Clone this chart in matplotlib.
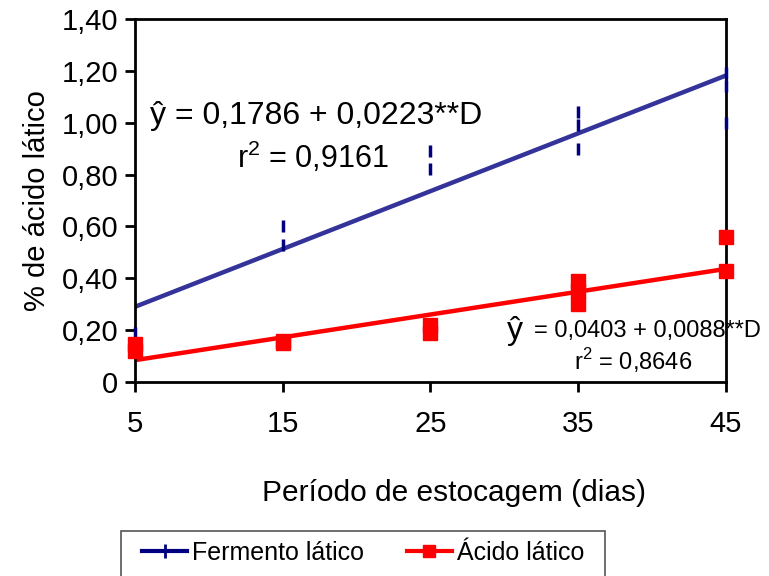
import numpy as np
import matplotlib.pyplot as plt
from matplotlib.lines import Line2D
from matplotlib.patches import Rectangle

plt.rcParams['font.family'] = ['Liberation Sans', 'DejaVu Sans']
plt.rcParams['mathtext.fontset'] = 'custom'
plt.rcParams['mathtext.rm'] = 'Liberation Sans'

# dias de estocagem
dias = [5, 15, 25, 35, 45]

# replicatas
fermento_x = [5, 5, 15, 15, 25, 25, 35, 35, 35, 45, 45, 45]
fermento_y = [0.19, 0.15, 0.60, 0.53, 0.89, 0.82, 1.04, 0.99, 0.90, 1.19, 1.14, 1.00]

acido_x = [5, 5, 15, 15, 25, 25, 35, 35, 35, 45, 45]
acido_y = [0.145, 0.12, 0.16, 0.15, 0.22, 0.19, 0.39, 0.35, 0.30, 0.56, 0.43]

# regressoes
a1, b1 = 0.1786, 0.0223
a2, b2 = 0.0403, 0.0088

yticks = [0, 0.2, 0.4, 0.6, 0.8, 1.0, 1.2, 1.4]
ytick_labels = ['0', '0,20', '0,40', '0,60', '0,80', '1,00', '1,20', '1,40']

fig = plt.figure(figsize=(7.69, 5.76), dpi=100)
ax = fig.add_axes([0.1756, 0.3368, 0.7684, 0.6302])

D = np.array([5, 45])
ax.plot(D, a1 + b1 * D, color='#333399', lw=3.2, solid_capstyle='butt', zorder=2)
ax.plot(D, a2 + b2 * D, color='#ff0000', lw=3.2, solid_capstyle='butt', zorder=2)

ax.plot(fermento_x, fermento_y, ls='none', marker='|', ms=9, mew=2.5,
        color='#000080', clip_on=False, zorder=3)
ax.plot(acido_x, acido_y, ls='none', marker='s', ms=9.5,
        color='#ff0000', clip_on=False, zorder=3)

ax.set_xlim(5, 45)
ax.set_ylim(0, 1.4)
ax.set_xticks(dias)
ax.set_xticklabels([str(d) for d in dias])
ax.set_yticks(yticks)
ax.set_yticklabels(ytick_labels)
ax.tick_params(labelsize=21, length=7, width=2, direction='out', pad=5)
ax.tick_params(axis='x', pad=13)
for s in ax.spines.values():
    s.set_linewidth(2)

ax.set_xlabel('Período de estocagem (dias)', fontsize=21.5, labelpad=30)
ax.xaxis.label.set_x(0.54)
ax.set_ylabel('% de ácido lático', fontsize=21, labelpad=8)

ax.text(6.0, 0.995, 'ŷ = 0,1786 + 0,0223**D', fontsize=23, va='baseline')
ax.text(11.9, 0.825, r'r$^2$ = 0,9161', fontsize=22, va='baseline')

ax.text(30.2, 0.165, 'ŷ', fontsize=23, va='baseline')
ax.text(32.0, 0.175, '= 0,0403 + 0,0088**D', fontsize=17, va='baseline')
ax.text(34.7, 0.045, r'r$^2$ = 0,8646', fontsize=17, va='baseline')

# moldura da legenda (cortada na borda inferior, como no original)
fig.patches.append(Rectangle((121 / 769, -0.05), 484 / 769, 1 - 531 / 576 + 0.05,
                             transform=fig.transFigure, fill=False,
                             edgecolor='#555555', lw=1.2))

handles = [
    Line2D([], [], color='#000080', lw=3, marker='|', ms=10, mew=2),
    Line2D([], [], color='#ff0000', lw=3, marker='s', ms=8),
]
fig.legend(handles, ['Fermento lático', 'Ácido lático'], loc='center',
           bbox_to_anchor=(363 / 769, 1 - 553 / 576), ncol=2, fontsize=18,
           frameon=False, handlelength=1.8, handletextpad=0.2,
           borderaxespad=0, borderpad=0, columnspacing=1.7)

fig.savefig('out.png', dpi=100)
